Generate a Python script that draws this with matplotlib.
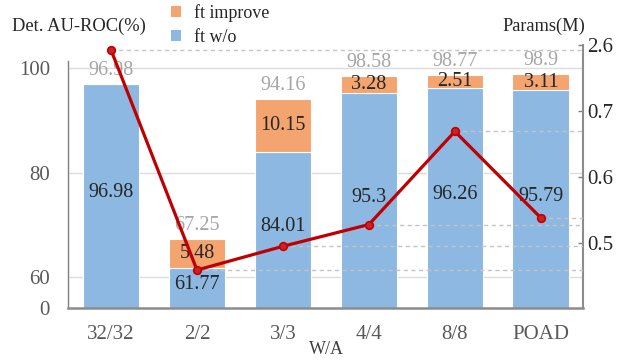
import matplotlib
matplotlib.use("Agg")
import matplotlib.pyplot as plt
from matplotlib.patches import Patch

plt.rcParams['font.family'] = ['Liberation Serif', 'DejaVu Serif']

categories = ["32/32", "2/2", "3/3", "4/4", "8/8", "POAD"]
ft_wo = [96.98, 61.77, 84.01, 95.3, 96.26, 95.79]
ft_improve = [0.0, 5.48, 10.15, 3.28, 2.51, 3.11]
totals = [96.98, 67.25, 94.16, 98.58, 98.77, 98.9]
params = [2.46, 0.459, 0.495, 0.528, 0.669, 0.538]

left_ticks = [0, 60, 80, 100]
right_ticks = [0.5, 0.6, 0.7, 2.6]

BLUE = '#8DB8E1'
ORANGE = '#F3A46F'
RED = '#C00000'

L_BOT = 54.07   # where "0" sits (broken axis)
L_TOP = 104.5
R_BOT = 0.4015
R_TOP = 0.8

def lpos(v):
    return L_BOT if v == 0 else v

def rpos(v):
    # broken secondary axis: values above 0.7 compressed so 2.6 sits at the top
    return v if v <= 0.7 else 0.7 + (v - 0.7) * (R_TOP - 0.7) / (2.6 - 0.7)

fig = plt.figure(figsize=(6.2, 3.6), dpi=100)
ax = fig.add_axes([68/620, 1-308/360, (583-68)/620, (308-45)/360])
x = list(range(len(categories)))
w = 0.66

ax.set_xlim(-0.5, 5.49)
ax.set_ylim(L_BOT, L_TOP)

for yv in [60, 80, 100]:
    ax.axhline(yv, color='#DCDCDC', lw=1.0, zorder=0)

ax.bar(x, ft_wo, width=w, color=BLUE, edgecolor='white', lw=0.8, zorder=2)
ax.bar(x, ft_improve, width=w, bottom=ft_wo, color=ORANGE, edgecolor='white', lw=0.8, zorder=2)

for i in x:
    b = ft_wo[i]
    ax.text(i, (L_BOT + b) / 2 + 0.6, f"{b:g}", ha='center', va='center', fontsize=14.5, color='#262626', zorder=5)
    if ft_improve[i] > 0:
        ax.text(i, b + ft_improve[i] / 2, f"{ft_improve[i]:g}", ha='center', va='center',
                fontsize=14.5, color='#262626', zorder=5)
    ax.text(i, min(totals[i] + 0.8, 100.7), f"{totals[i]:g}", ha='center', va='bottom',
            fontsize=14.5, color='#A6A6A6', zorder=5)

ax.set_yticks([lpos(v) for v in left_ticks])
ax.set_yticklabels([str(v) for v in left_ticks])
ax.tick_params(axis='y', length=0, pad=13, labelsize=15, labelcolor='#595959')
ax.set_xticks(x)
ax.set_xticklabels(categories)
ax.tick_params(axis='x', length=0, pad=12, labelsize=15, labelcolor='#595959')

for s in ['top', 'right']:
    ax.spines[s].set_visible(False)
ax.spines['left'].set_color('#808080')
ax.spines['left'].set_linewidth(1.0)
ax.spines['left'].set_bounds(L_BOT, 101.5)
ax.spines['bottom'].set_color('#8C8C8C')
ax.spines['bottom'].set_linewidth(1.8)

ax2 = ax.twinx()
ax2.set_ylim(R_BOT, R_TOP)
ax2.set_xlim(-0.5, 5.49)
rp = [rpos(v) for v in params]
for i in x:
    ax2.plot([i, 5.49], [rp[i], rp[i]], color='#C4C4C4', lw=1.0, ls=(0, (3, 2.5)), zorder=3)
ax2.plot(x, rp, color=RED, lw=2.3, marker='o', ms=5.5, mfc='#CC2222', mec=RED, mew=1.2, zorder=6)
ax2.set_yticks([rpos(v) for v in right_ticks])
ax2.set_yticklabels([f"{v:g}" for v in right_ticks])
ax2.tick_params(axis='y', direction='in', length=3.5, width=1.0, color='#808080',
                pad=3, labelsize=15, labelcolor='#262626')
for s in ['top', 'left', 'bottom']:
    ax2.spines[s].set_visible(False)
ax2.spines['right'].set_color('#8C8C8C')
ax2.spines['right'].set_linewidth(1.5)

fig.text(12/620, 1-26/360, "Det. AU-ROC(%)", fontsize=13.3, color='#262626', ha='left', va='center')
fig.text(585/620, 1-26/360, "Params(M)", fontsize=13.2, color='#262626', ha='right', va='center')
fig.text(326/620, 1-349/360, "W/A", fontsize=13, color='#404040', ha='center', va='center')

handles = [Patch(facecolor=ORANGE, edgecolor='none', label='ft improve'),
           Patch(facecolor=BLUE, edgecolor='none', label='ft w/o')]
fig.legend(handles=handles, loc='upper left', bbox_to_anchor=(171/620, 1-4/360),
           frameon=False, fontsize=13, handlelength=0.55, handleheight=0.55,
           handletextpad=0.7, labelspacing=0.4, borderpad=0, borderaxespad=0,
           labelcolor='#262626')

fig.savefig("out.png", dpi=100)
